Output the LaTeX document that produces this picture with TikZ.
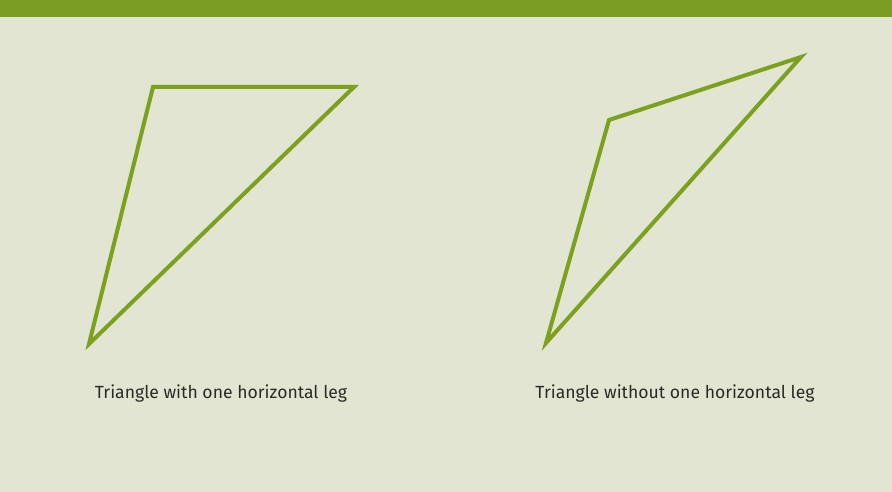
\documentclass[tikz,border=0pt]{standalone}
\usepackage{fontspec}
\setmainfont{Fira Sans}
\usepackage{tikz}

\definecolor{paper}{HTML}{E2E5D2}
\definecolor{leaf}{HTML}{7DA11F}
\definecolor{bar}{HTML}{7C9D24}
\definecolor{ink}{HTML}{2A2A26}

\begin{document}
\begin{tikzpicture}[x=1pt,y=-1pt]
\fill[paper] (0,0) rectangle (892,492);
\fill[bar] (0,0) rectangle (892,17);
\useasboundingbox (0,0) rectangle (892,492);
\coordinate (a1) at (153,87);
\coordinate (b1) at (354,87);
\coordinate (c1) at (89,344);
\coordinate (a2) at (609,120);
\coordinate (b2) at (801,57);
\coordinate (c2) at (546,343);
\draw[leaf,line width=4pt,line join=miter] (a1) -- (b1) -- (c1) -- cycle;
\draw[leaf,line width=4pt,line join=miter] (a2) -- (b2) -- (c2) -- cycle;
\node[text=ink,font=\fontsize{17.6}{20}\selectfont] (cap1) at (221,394) {Triangle with one horizontal leg};
\node[text=ink,font=\fontsize{17.6}{20}\selectfont] (cap2) at (675,394) {Triangle without one horizontal leg};
\end{tikzpicture}
\end{document}
